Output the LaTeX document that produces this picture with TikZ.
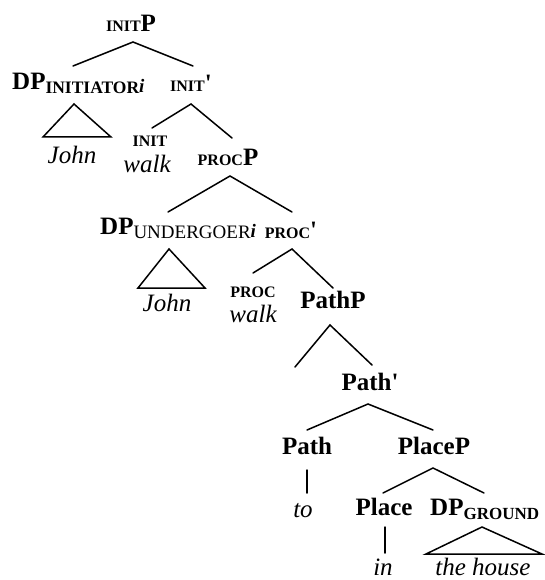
\documentclass[tikz,border=0pt]{standalone}
\usepackage{fontspec}
\setmainfont{Liberation Serif}[Ligatures=TeXOff]
\newcommand\smc[1]{{\fontsize{16}{16}\selectfont #1}}
\newcommand\subcap[2][17.5]{\raisebox{-4pt}{\fontsize{#1}{#1}\selectfont #2}}
\newcommand\subi{\raisebox{-3pt}{\fontsize{19}{19}\selectfont\textit{i}}}
\newcommand\prm{\symbol{39}}
\begin{document}
\begin{tikzpicture}[x=1pt,y=-1pt,
  every node/.style={inner sep=0pt},
  lbl/.style={anchor=base, font=\fontsize{25}{25}\selectfont\bfseries},
  lblw/.style={anchor=base west, font=\fontsize{25}{25}\selectfont\bfseries},
  leaf/.style={anchor=base, font=\fontsize{25}{25}\selectfont\itshape},
  br/.style={line width=1.5pt, line cap=round, line join=miter}]
\useasboundingbox (0,0) rectangle (544,580);

% labels
\node[lbl] (initP) at (131,32) {\smc{INIT}P};
\node[lblw] (dpI) at (12,90) {DP\subcap{INITIATOR}\subi};
\node[lbl] (initbar) at (191,92) {\smc{INIT}\prm};
\node[leaf] (john1) at (72,164) {John};
\node[lbl] (init) at (150,147) {\smc{INIT}};
\node[leaf] (walk1) at (147,172) {walk};
\node[lbl] (procP) at (228,165) {\smc{PROC}P};
\node[lblw] (dpU) at (100,234) {DP\subcap[19]{\mdseries UNDERGOER}\subi};
\node[lbl] (procbar) at (291,238) {\smc{PROC}\prm};
\node[leaf] (john2) at (167,311) {John};
\node[lbl] (proc) at (253,297) {\smc{PROC}};
\node[leaf] (walk2) at (253,322) {walk};
\node[lbl] (pathP) at (333,308) {PathP};
\node[lbl] (pathbar) at (370,390) {Path\prm};
\node[lbl] (path) at (307,454) {Path};
\node[lbl] (placeP) at (434,454) {PlaceP};
\node[leaf] (to) at (303,517) {to};
\node[lbl] (place) at (384,515) {Place};
\node[lblw] (dpG) at (430,515) {DP\subcap[17]{GROUND}};
\node[leaf] (in) at (383,575) {in};
\node[leaf] (house) at (483,575) {the house};

% branch points
\coordinate (a1) at (133,42);  \coordinate (a1l) at (73,66);  \coordinate (a1r) at (193,66);
\coordinate (t1) at (74,104);  \coordinate (t1l) at (43,137); \coordinate (t1r) at (111,137);
\coordinate (a2) at (191,104); \coordinate (a2l) at (152,128); \coordinate (a2r) at (232,138);
\coordinate (a3) at (230,176); \coordinate (a3l) at (168,212); \coordinate (a3r) at (292,212);
\coordinate (t2) at (169,249); \coordinate (t2l) at (138,288); \coordinate (t2r) at (205,288);
\coordinate (a4) at (292,249); \coordinate (a4l) at (253,273); \coordinate (a4r) at (333,288);
\coordinate (a5) at (330,325); \coordinate (a5l) at (295,367); \coordinate (a5r) at (372,365);
\coordinate (a6) at (368,404); \coordinate (a6l) at (307,430); \coordinate (a6r) at (433,430);
\coordinate (v1) at (307,470); \coordinate (v1b) at (307,493);
\coordinate (a7) at (433,468); \coordinate (a7l) at (383,493); \coordinate (a7r) at (484,493);
\coordinate (v2) at (385,527); \coordinate (v2b) at (385,553);
\coordinate (t3) at (482,527); \coordinate (t3l) at (426,554); \coordinate (t3r) at (542,554);

\draw[br] (a1l) -- (a1) -- (a1r);
\draw[br] (t1) -- (t1l) -- (t1r) -- cycle;
\draw[br] (a2l) -- (a2) -- (a2r);
\draw[br] (a3l) -- (a3) -- (a3r);
\draw[br] (t2) -- (t2l) -- (t2r) -- cycle;
\draw[br] (a4l) -- (a4) -- (a4r);
\draw[br] (a5l) -- (a5) -- (a5r);
\draw[br] (a6l) -- (a6) -- (a6r);
\draw[br] (v1) -- (v1b);
\draw[br] (a7l) -- (a7) -- (a7r);
\draw[br] (v2) -- (v2b);
\draw[br] (t3) -- (t3l) -- (t3r) -- cycle;
\end{tikzpicture}
\end{document}
